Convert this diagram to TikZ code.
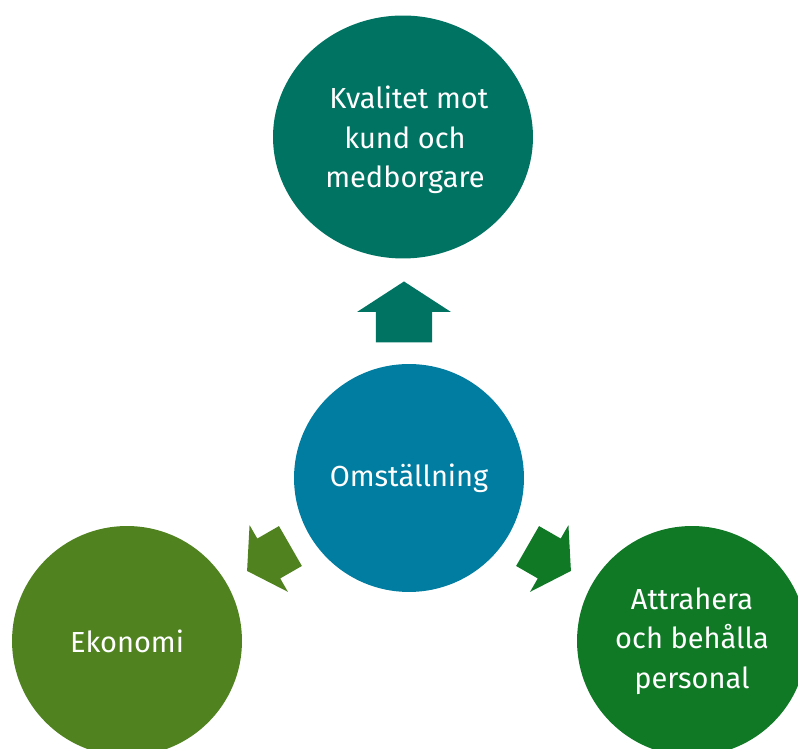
\documentclass[tikz,border=0pt]{standalone}
\usepackage{fontspec}
\setmainfont{Fira Sans}
\usetikzlibrary{shapes.geometric}
\definecolor{teal1}{RGB}{0,115,99}
\definecolor{blue1}{RGB}{0,125,160}
\definecolor{olive1}{RGB}{80,130,32}
\definecolor{green1}{RGB}{16,121,38}
% block arrow: #1 position, #2 angle, #3 colour, #4 scale
\newcommand*{\blockArrow}[4]{%
	\fill[#3,shift={#1},rotate=#2,scale=#4] (-25,-23)--(0,-23)--(0,-38.5)--(25,0)--(0,38.5)--(0,23)--(-25,23)--cycle;}

\begin{document}
\begin{tikzpicture}[x=0.02cm,y=0.02cm,
	label text/.style={text=white,align=center,font=\fontsize{16.5}{22.4}\selectfont},
	bubble/.style={ellipse,inner sep=0pt,label text}]
	
	\clip (0,0) rectangle (798,749);
	
	\node[bubble,fill=teal1,minimum width=5.2cm,minimum height=4.86cm] (quality) at (403,612) {};
	\node[label text] (qualitytext) at (405,609) {\ Kvalitet mot\\kund och\\medborgare};
	\node[bubble,fill=blue1,minimum width=4.6cm,minimum height=4.56cm] (change) at (409,271) {Omställning};
	\node[bubble,fill=olive1,minimum width=4.6cm,minimum height=4.6cm] (economy) at (127,108) {Ekonomi};
	\node[bubble,fill=green1,minimum width=4.6cm,minimum height=4.6cm] (staff) at (692,108) {Attrahera\\och behålla\\personal};
	
	\blockArrow{(404,437)}{90}{teal1}{1.22}
	\blockArrow{(268.75,190.5)}{209.9}{olive1}{1}
	\blockArrow{(549.25,190.5)}{330.1}{green1}{1}
	
\end{tikzpicture}
\end{document}
